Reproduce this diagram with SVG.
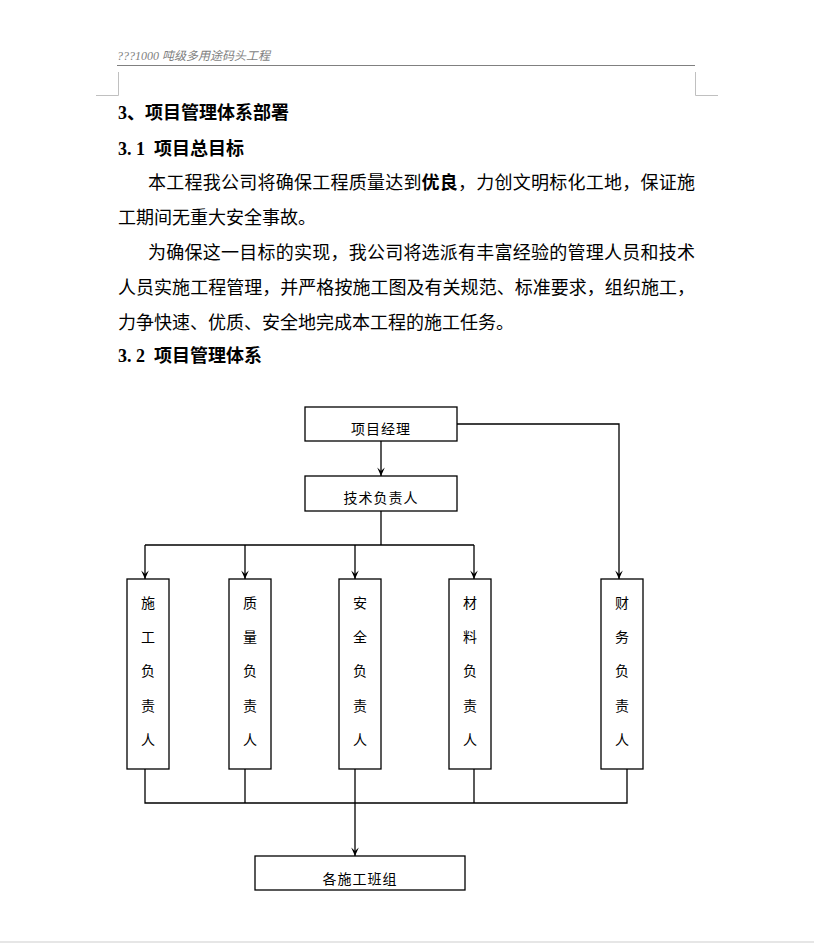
<svg xmlns="http://www.w3.org/2000/svg" width="814" height="943" viewBox="0 0 814 943">
<defs>
<marker id="arr" markerUnits="userSpaceOnUse" markerWidth="10" markerHeight="10" viewBox="0 0 10 10" refX="9.5" refY="5" orient="auto">
<path d="M1,1.2 L9.5,5 L1,8.8 L4.5,5 Z" fill="#000"/>
</marker>
<style>
.hdr{font-family:"Liberation Serif","Noto Sans CJK SC",serif;font-style:italic;font-size:12px;fill:#7f7f7f}
.body{font-family:"Liberation Serif","Noto Sans CJK SC",serif;font-size:18px;fill:#000}
.h{font-weight:bold}
.box{fill:#fff;stroke:#000;stroke-width:1.3}
.lbl{font-family:"Noto Sans CJK SC",sans-serif;font-size:14px;fill:#000;text-anchor:middle}
.con{fill:none;stroke:#000;stroke-width:1.3}
.arw{marker-end:url(#arr)}
</style>
</defs>
<rect width="814" height="943" fill="#fff"/>
<!-- page header -->
<g id="page-header">
<text class="hdr" x="117" y="60">???1000 吨级多用途码头工程</text>
<line x1="117" y1="65.5" x2="695" y2="65.5" stroke="#808080" stroke-width="1"/>
<path d="M118.5,72 V95.5 H96" fill="none" stroke="#c0c0c0" stroke-width="1"/>
<path d="M695.5,72 V95.5 H718" fill="none" stroke="#c0c0c0" stroke-width="1"/>
</g>
<rect x="0" y="941" width="814" height="2" fill="#e6e6e6"/>
<!-- body text -->
<g id="body-text" class="body">
<text class="h" x="118" y="119"><tspan x="118">3</tspan><tspan x="127">、项目管理体系部署</tspan></text>
<text class="h" y="155"><tspan x="118 127 136">3.1</tspan><tspan x="154">项目总目标</tspan></text>
<text x="148" y="189" textLength="547" lengthAdjust="spacing">本工程我公司将确保工程质量达到<tspan font-weight="bold">优良</tspan>，力创文明标化工地，保证施</text>
<text x="118" y="224">工期间无重大安全事故。</text>
<text x="148" y="259" textLength="547" lengthAdjust="spacing">为确保这一目标的实现，我公司将选派有丰富经验的管理人员和技术</text>
<text x="118" y="294" textLength="577" lengthAdjust="spacing">人员实施工程管理，并严格按施工图及有关规范、标准要求，组织施工，</text>
<text x="118" y="329">力争快速、优质、安全地完成本工程的施工任务。</text>
<text class="h" y="362"><tspan x="118 127 136">3.2</tspan><tspan x="154">项目管理体系</tspan></text>
</g>
<!-- connectors -->
<g id="connectors">
<line class="con arw" x1="381" y1="441" x2="381" y2="476"/>
<polyline class="con arw" points="457,424 619,424 619,579"/>
<line class="con" x1="381" y1="511" x2="381" y2="545"/>
<line class="con" x1="145" y1="545" x2="474" y2="545"/>
<line class="con arw" x1="145" y1="545" x2="145" y2="579"/>
<line class="con arw" x1="245" y1="545" x2="245" y2="579"/>
<line class="con arw" x1="355" y1="545" x2="355" y2="579"/>
<line class="con arw" x1="474" y1="545" x2="474" y2="579"/>
<polyline class="con" points="145,769 145,803 627,803 627,769"/>
<line class="con" x1="245" y1="769" x2="245" y2="803"/>
<line class="con" x1="474" y1="769" x2="474" y2="803"/>
<line class="con arw" x1="355" y1="769" x2="355" y2="856"/>
</g>
<!-- nodes -->
<g id="n-manager">
<rect class="box" x="305" y="407" width="152" height="34"/>
<text class="lbl" x="381" y="434" letter-spacing="1">项目经理</text>
</g>
<g id="n-tech">
<rect class="box" x="305" y="476" width="152" height="35"/>
<text class="lbl" x="381" y="503" letter-spacing="1">技术负责人</text>
</g>
<g id="n-construction">
<rect class="box" x="127" y="579" width="42" height="190"/>
<text class="lbl" x="148" y="608">施</text><text class="lbl" x="148" y="642">工</text><text class="lbl" x="148" y="676">负</text><text class="lbl" x="148" y="711">责</text><text class="lbl" x="148" y="745">人</text>
</g>
<g id="n-quality">
<rect class="box" x="229" y="579" width="42" height="190"/>
<text class="lbl" x="250" y="608">质</text><text class="lbl" x="250" y="642">量</text><text class="lbl" x="250" y="676">负</text><text class="lbl" x="250" y="711">责</text><text class="lbl" x="250" y="745">人</text>
</g>
<g id="n-safety">
<rect class="box" x="339" y="579" width="42" height="190"/>
<text class="lbl" x="360" y="608">安</text><text class="lbl" x="360" y="642">全</text><text class="lbl" x="360" y="676">负</text><text class="lbl" x="360" y="711">责</text><text class="lbl" x="360" y="745">人</text>
</g>
<g id="n-material">
<rect class="box" x="449" y="579" width="42" height="190"/>
<text class="lbl" x="470" y="608">材</text><text class="lbl" x="470" y="642">料</text><text class="lbl" x="470" y="676">负</text><text class="lbl" x="470" y="711">责</text><text class="lbl" x="470" y="745">人</text>
</g>
<g id="n-finance">
<rect class="box" x="601" y="579" width="42" height="190"/>
<text class="lbl" x="622" y="608">财</text><text class="lbl" x="622" y="642">务</text><text class="lbl" x="622" y="676">负</text><text class="lbl" x="622" y="711">责</text><text class="lbl" x="622" y="745">人</text>
</g>
<g id="n-teams">
<rect class="box" x="255" y="856" width="210" height="34"/>
<text class="lbl" x="360" y="884" letter-spacing="1">各施工班组</text>
</g>
</svg>
